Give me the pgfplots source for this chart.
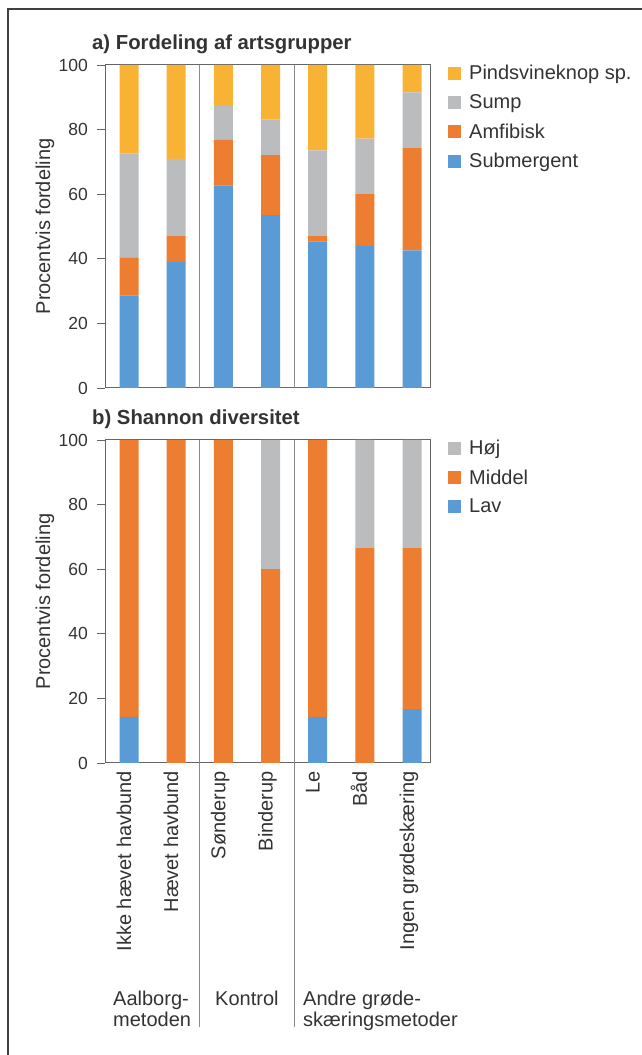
\documentclass[border=0pt]{standalone}
\usepackage{fontspec}
\setmainfont{Liberation Sans}
\usepackage{pgfplots}
\usepackage{pgfplotstable}
\pgfplotsset{compat=1.18}
\definecolor{cY}{HTML}{F8B234}
\definecolor{cG}{HTML}{BBBCBE}
\definecolor{cO}{HTML}{ED7D31}
\definecolor{cB}{HTML}{5B9BD5}
\definecolor{txt}{HTML}{333333}
\definecolor{ax}{HTML}{8A8A8A}

\pgfplotstableread{
x sub amf sump pind
0 28.7 11.7 32.2 27.4
1 39.0 8.2 23.7 29.1
2 62.7 14.1 10.5 12.7
3 53.5 18.6 11.1 16.8
4 45.4 1.6 26.6 26.4
5 44.0 16.0 17.2 22.8
6 42.6 31.7 17.2 8.5
}\tabA

\pgfplotstableread{
x lav middel hoej
0 14.3 85.7 0
1 0 100 0
2 0 100 0
3 0 60 40
4 14.3 85.7 0
5 0 66.7 33.3
6 16.7 50 33.3
}\tabB

\pgfplotsset{
  sq/.style={legend image code/.code={\fill[##1] (0pt,-6.5pt) rectangle (13pt,6.5pt); \path (19pt,0pt);}},
  mystyle/.style={
    scale only axis, width=325pt, height=323pt,
    xmin=-0.51, xmax=6.38, ymin=0, ymax=100,
    ytick={0,20,40,60,80,100},
    ytick pos=left,
    ybar stacked, bar width=19pt,
    axis line style={ax, line width=0.9pt},
    y axis line style={black!60, line width=1pt},
    ytick style={black!60, line width=0.9pt},
    ytick align=outside, major tick length=8pt,
    xtick style={draw=none},
    yticklabel style={font=\fontsize{17.5}{17.5}\selectfont, text=txt, inner sep=2pt, xshift=-7pt},
    /pgf/number format/assume math mode=true,
    every axis y label/.style={at={(axis description cs:-0.185,0.5)}, rotate=90, anchor=center, font=\fontsize{20}{20}\selectfont, text=txt},
    ylabel={Procentvis fordeling},
    legend style={draw=none, fill=none, at={(axis description cs:1,1)}, anchor=north west, xshift=15pt, yshift=4pt,
      font=\fontsize{20}{20}\selectfont, text=txt, row sep=9.5pt,
      /tikz/every even column/.append style={column sep=4pt}},
    legend cell align=left,
    reverse legend,
    clip=false,
  }
}

\begin{document}
\begin{tikzpicture}[x=1pt,y=1pt]
\path[use as bounding box] (0,0) rectangle (642,1055);
\draw[black!75, line width=1.2pt] (8,0) -- (8,1046) -- (642,1046);

\node[anchor=base west, font=\bfseries\fontsize{20.3}{20}\selectfont, text=txt, inner sep=0] at (92,1005) {a) Fordeling af artsgrupper};
\node[anchor=base west, font=\bfseries\fontsize{20.3}{20}\selectfont, text=txt, inner sep=0] at (92,630) {b) Shannon diversitet};

\begin{axis}[mystyle, at={(105pt,667pt)}, anchor=south west, xtick=\empty]
\addplot[fill=cB, draw=none, sq] table[x=x,y=sub]{\tabA};
\addplot[fill=cO, draw=none, sq] table[x=x,y=amf]{\tabA};
\addplot[fill=cG, draw=none, sq] table[x=x,y=sump]{\tabA};
\addplot[fill=cY, draw=none, sq] table[x=x,y=pind]{\tabA};
\legend{Submergent, Amfibisk, Sump, Pindsvineknop sp.}
\draw[ax, line width=0.8pt] (axis cs:1.5,0) -- (axis cs:1.5,100);
\draw[ax, line width=0.8pt] (axis cs:3.5,0) -- (axis cs:3.5,100);
\end{axis}

\begin{axis}[mystyle, at={(105pt,292pt)}, anchor=south west,
  xtick={0,1,2,3,4,5,6},
  xticklabels={Ikke hævet havbund, Hævet havbund, Sønderup, Binderup, Le, Båd, Ingen grødeskæring},
  xticklabel style={rotate=90, anchor=base east, font=\fontsize{20}{20}\selectfont, text=txt, inner sep=0pt, xshift=-8pt, yshift=-2pt}]
\addplot[fill=cB, draw=none, sq] table[x=x,y=lav]{\tabB};
\addplot[fill=cO, draw=none, sq] table[x=x,y=middel]{\tabB};
\addplot[fill=cG, draw=none, sq] table[x=x,y=hoej]{\tabB};
\legend{Lav, Middel, Høj}
\draw[ax, line width=0.8pt] (axis cs:1.5,100) -- (axis cs:1.5,0) -- ++(0pt,-264pt);
\draw[ax, line width=0.8pt] (axis cs:3.5,100) -- (axis cs:3.5,0) -- ++(0pt,-264pt);
\end{axis}

\node[anchor=north west, align=left, font=\fontsize{20}{21}\selectfont, text=txt, inner sep=0] at (113,64) {Aalborg-\\metoden};
\node[anchor=north west, align=left, font=\fontsize{20}{21}\selectfont, text=txt, inner sep=0] at (215,64) {Kontrol};
\node[anchor=north west, align=left, font=\fontsize{20}{21}\selectfont, text=txt, inner sep=0] at (303,64) {Andre grøde-\\skæringsmetoder};
\end{tikzpicture}
\end{document}
